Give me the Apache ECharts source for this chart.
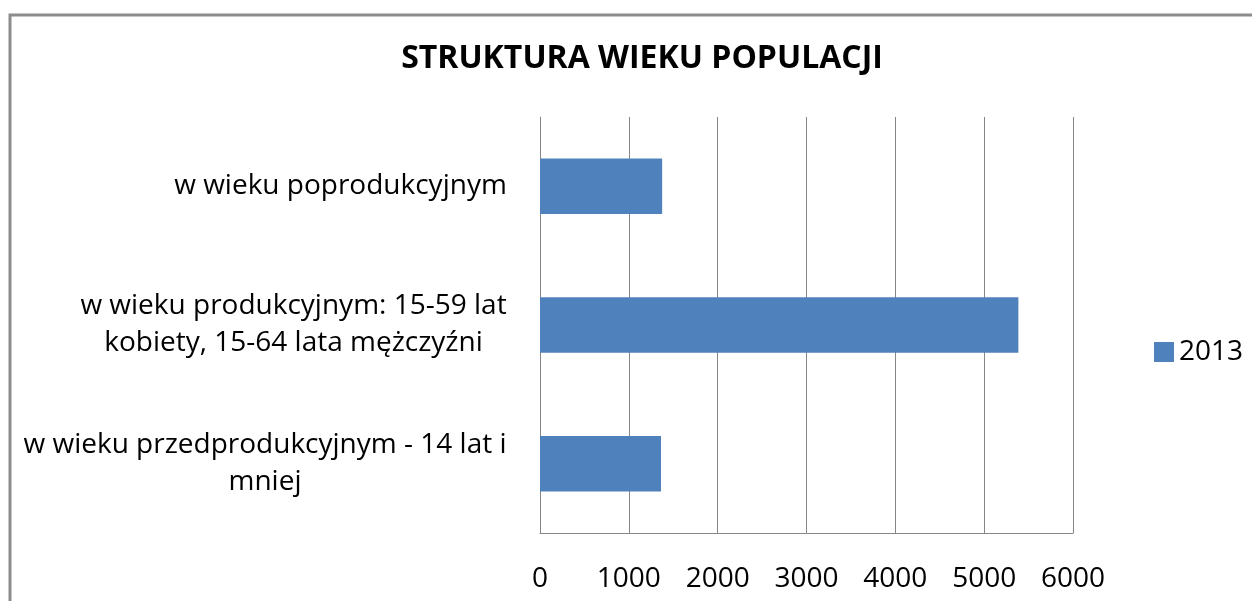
<!DOCTYPE html>
<html>
<head>
<meta charset="utf-8">
<script src="https://cdn.jsdelivr.net/npm/echarts@6/dist/echarts.min.js"></script>
<style>
  html, body { margin: 0; padding: 0; background: #fff; }
  #chart { width: 1252px; height: 601px; }
</style>
</head>
<body>
<div id="chart"></div>
<script>
// dane wykresu
var categories = [
  'w wieku przedprodukcyjnym - 14 lat i\nmniej',
  'w wieku produkcyjnym: 15-59 lat\nkobiety, 15-64 lata mężczyźni',
  'w wieku poprodukcyjnym'
];
var seriesName = '2013';
var values2013 = [1362, 5385, 1375];
var xMin = 0, xMax = 6000, xStep = 1000;

var FONT = "'Open Sans', 'Noto Sans', sans-serif";
var LABEL_SIZE = 28;

// szerokosc najdluzszej linii - zeby linie byly wysrodkowane w bloku
var ctx = document.createElement('canvas').getContext('2d');
ctx.font = LABEL_SIZE + 'px ' + FONT;
var rich = {};
categories.forEach(function (c, i) {
  var w = 0;
  c.split('\n').forEach(function (line) {
    w = Math.max(w, ctx.measureText(line).width);
  });
  rich['c' + i] = {
    width: Math.ceil(w) + 2,
    align: 'center',
    fontSize: LABEL_SIZE,
    fontFamily: FONT,
    color: '#000',
    lineHeight: 37
  };
});

var chart = echarts.init(document.getElementById('chart'));
var option = {
  backgroundColor: '#fff',
  animation: false,
  graphic: [{
    type: 'rect',
    z: -10,
    shape: { x: 10, y: 15, width: 1400, height: 800 },
    style: { fill: 'none', stroke: '#8c8c8c', lineWidth: 3 }
  }],
  title: {
    text: 'STRUKTURA WIEKU POPULACJI',
    left: 637,
    top: 38,
    textAlign: 'center',
    textStyle: { fontFamily: FONT, fontWeight: 'bold', fontSize: 32, color: '#000' }
  },
  legend: {
    data: [seriesName],
    orient: 'vertical',
    left: 1149,
    top: 333,
    icon: 'rect',
    itemWidth: 20,
    itemHeight: 20,
    itemGap: 8,
    textStyle: { fontFamily: FONT, fontSize: LABEL_SIZE, color: '#000' }
  },
  grid: { left: 540, right: 179, top: 117, bottom: 68, containLabel: false },
  xAxis: {
    type: 'value',
    min: xMin,
    max: xMax,
    interval: xStep,
    axisLine: { show: true, lineStyle: { color: '#868686', width: 1 } },
    axisTick: { show: false },
    splitLine: { show: true, lineStyle: { color: '#868686', width: 1 } },
    axisLabel: {
      margin: 32,
      fontFamily: FONT,
      fontSize: LABEL_SIZE,
      color: '#000',
      formatter: function (v) { return String(v); }
    }
  },
  yAxis: {
    type: 'category',
    data: categories,
    axisLine: { show: true, lineStyle: { color: '#868686', width: 1 } },
    axisTick: { show: false },
    axisLabel: {
      margin: 32,
      interval: 0,
      formatter: function (value, index) {
        return value.split('\n').map(function (l) {
          return '{c' + index + '|' + l + '}';
        }).join('\n');
      },
      rich: rich
    }
  },
  series: [{
    name: seriesName,
    type: 'bar',
    data: values2013,
    barWidth: '40%',
    itemStyle: { color: '#4f81bd' }
  }]
};
chart.setOption(option);
</script>
</body>
</html>
